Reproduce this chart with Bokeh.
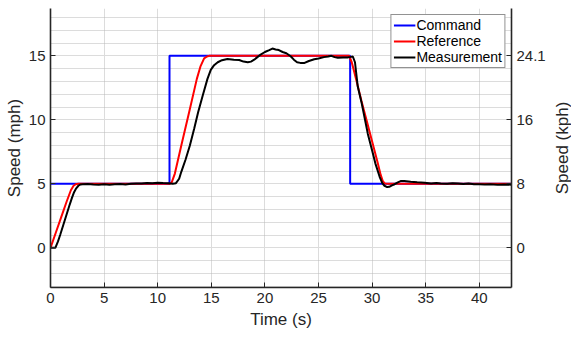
import math
from bokeh.plotting import figure
from bokeh.models import (LinearAxis, SingleIntervalTicker, FixedTicker, Range1d,
                          Legend, LegendItem, Label)
from bokeh.embed import file_html
from bokeh.resources import INLINE

# ---- data ----
command_t = [0, 11.1, 11.1, 27.95, 27.95, 43]
command_v = [5, 5, 15, 15, 5, 5]

reference_t = [0, 0.5, 1.0, 1.5, 1.9, 2.15, 2.35, 2.6, 3.0, 11.1, 11.3, 11.6, 12.2, 12.93,
               13.65, 14.0, 14.33, 14.6, 14.8, 15.2, 27.85, 28.1, 28.5, 29.0, 29.5, 30.0,
               30.5, 30.8, 31.0, 31.2, 31.5, 43]
reference_v = [0, 1.2, 2.4, 3.6, 4.5, 4.85, 4.97, 5.0, 5.0, 5.0, 5.1, 5.8, 8.0, 10.6,
               13.2, 14.2, 14.8, 14.95, 15.0, 15.0, 15.0, 14.5, 13.2, 11.5, 9.9, 8.3,
               6.7, 5.7, 5.2, 5.02, 5.0, 5.0]

measurement_t = [0, 0.45, 0.7, 0.9, 1.2, 1.5, 1.8, 2.0, 2.2, 2.4, 2.6, 2.8, 3.0, 3.5, 4.0,
                 4.5, 5.0, 5.5, 6.0, 6.5, 7.0, 7.5, 8.0, 8.5, 9.0, 9.5, 10.0, 10.5, 11.0,
                 11.4, 11.7, 12.0, 12.2, 12.6, 13.0, 13.4, 13.77, 14.2, 14.64, 14.95, 15.26,
                 15.6, 16.0, 16.5, 17.1, 17.6, 18.0, 18.4, 18.7, 19.0, 19.3, 19.6, 20.0,
                 20.4, 20.7, 21.0, 21.3, 21.65, 22.0, 22.4, 22.7, 23.0, 23.3, 23.7, 24.1,
                 24.6, 25.0, 25.5, 25.9, 26.2, 26.5, 26.8, 27.3, 27.7, 28.0, 28.2, 28.4,
                 28.66, 29.0, 29.6, 30.0, 30.3, 30.7, 30.95, 31.15, 31.4, 31.6, 31.85, 32.1,
                 32.4, 32.7, 33.0, 33.6, 34.2, 34.9, 35.5, 36.0, 36.4, 37.0, 37.5, 38.0,
                 38.5, 39.0, 39.5, 40.0, 40.5, 41.0, 41.7, 42.3, 43.0]
measurement_v = [0, 0, 0.5, 1.0, 1.8, 2.6, 3.4, 3.9, 4.35, 4.65, 4.85, 4.95, 4.97, 4.98, 4.95,
                 4.93, 4.97, 4.93, 4.97, 4.98, 4.95, 5.0, 5.03, 5.02, 5.06, 5.05, 5.08, 5.06, 5.05,
                 5.0, 5.05, 5.4, 5.94, 6.9, 8.0, 9.3, 10.6, 11.9, 13.2, 13.9, 14.27,
                 14.5, 14.66, 14.76, 14.7, 14.68, 14.55, 14.5, 14.55, 14.7, 14.9, 15.1, 15.3,
                 15.45, 15.57, 15.5, 15.45, 15.3, 15.2, 14.97, 14.7, 14.5, 14.45, 14.45, 14.6,
                 14.74, 14.8, 14.9, 14.95, 15.0, 14.9, 14.85, 14.87, 14.88, 14.92, 14.95, 14.5,
                 12.6, 11.4, 8.9, 7.6, 6.6, 5.55, 5.05, 4.85, 4.75, 4.77, 4.88, 4.97,
                 5.12, 5.23, 5.22, 5.16, 5.12, 5.08, 5.03, 5.06, 5.03, 5.01, 5.04, 5.03,
                 4.99, 5.02, 4.97, 4.97, 4.95, 4.96, 4.92, 4.95, 4.93]

mph_ticks = [0, 5, 10, 15]
kph_labels = ["0", "8", "16", "24.1"]
x_ticks = [0, 5, 10, 15, 20, 25, 30, 35, 40]

FONT = "Liberation Sans"
AX = "#262626"

p = figure(width=571, height=337, output_backend="svg", toolbar_location=None,
           x_range=Range1d(0, 43), y_range=Range1d(-3.1, 18.7),
           min_border_left=50, min_border_right=60, min_border_top=8, min_border_bottom=50,
           x_axis_label="Time (s)", y_axis_label="Speed (mph)")
p.outline_line_color = None
p.background_fill_color = "white"
p.border_fill_color = "white"

p.xaxis.ticker = FixedTicker(ticks=x_ticks)
p.yaxis.ticker = SingleIntervalTicker(interval=5, num_minor_ticks=5)

# right axis
rax = LinearAxis(ticker=FixedTicker(ticks=mph_ticks),
                 major_label_overrides={t: l for t, l in zip(mph_ticks, kph_labels)})
p.add_layout(rax, "right")

for ax in p.axis:
    ax.axis_line_color = AX
    ax.axis_line_width = 1.6
    ax.major_tick_line_color = AX
    ax.major_tick_in = 5
    ax.major_tick_out = 0
    ax.minor_tick_in = 0
    ax.minor_tick_out = 0
    ax.major_label_text_font = FONT
    ax.major_label_text_font_size = "15px"
    ax.major_label_text_color = AX
    ax.axis_label_text_font = FONT
    ax.axis_label_text_font_size = "17px"
    ax.axis_label_text_font_style = "normal"
    ax.axis_label_text_color = AX
    ax.major_label_standoff = 5

p.xaxis.axis_label_standoff = 4
p.yaxis[0].axis_label_standoff = 2

# right-hand axis title, reading bottom to top like the left one
rlabel = Label(x=47.8, y=7.8, text="Speed (kph)", angle=math.pi / 2,
               text_align="center", text_baseline="middle",
               text_font=FONT, text_font_size="17px", text_color=AX)
p.add_layout(rlabel, "right")

# grids
p.xgrid.grid_line_color = "#dcdcdc"
p.xgrid.grid_line_width = 1
p.ygrid.grid_line_color = "#dcdcdc"
p.ygrid.grid_line_width = 1
p.ygrid.minor_grid_line_color = "#b8b8b8"
p.ygrid.minor_grid_line_dash = "1 1"
p.ygrid.minor_grid_line_width = 1

r_cmd = p.line(command_t, command_v, line_color="#0000ff", line_width=2)
r_ref = p.line(reference_t, reference_v, line_color="#ff0000", line_width=2)
r_mea = p.line(measurement_t, measurement_v, line_color="#000000", line_width=2)

legend = Legend(items=[LegendItem(label="Command", renderers=[r_cmd]),
                       LegendItem(label="Reference", renderers=[r_ref]),
                       LegendItem(label="Measurement", renderers=[r_mea])],
                location="top_right")
legend.margin = 6
legend.padding = 2
legend.spacing = 0
legend.glyph_width = 22
legend.glyph_height = 16
legend.label_height = 16
legend.label_standoff = 1
legend.label_text_font = FONT
legend.label_text_font_size = "14px"
legend.label_text_color = "#000000"
legend.border_line_color = AX
legend.border_line_width = 1
legend.background_fill_alpha = 1
p.add_layout(legend)

open("out.html", "w").write(file_html(p, INLINE))
